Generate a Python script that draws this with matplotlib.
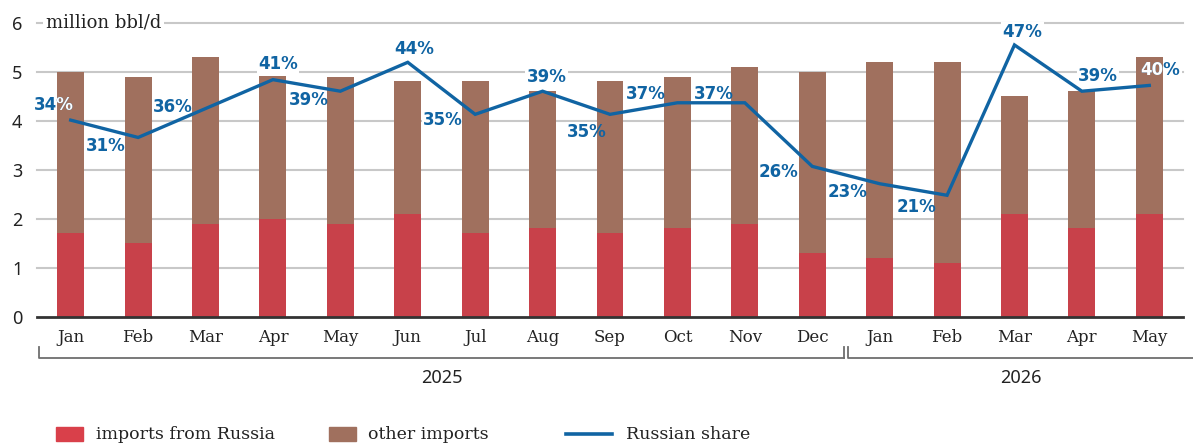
import matplotlib
matplotlib.use("Agg")
import matplotlib.pyplot as plt
from matplotlib.transforms import blended_transform_factory
from matplotlib.patches import Rectangle
from matplotlib.lines import Line2D

# ---------------- data ----------------
months = ["Jan", "Feb", "Mar", "Apr", "May", "Jun", "Jul", "Aug", "Sep", "Oct",
          "Nov", "Dec", "Jan", "Feb", "Mar", "Apr", "May"]
years = ["2025", "2026"]
russia = [1.7, 1.5, 1.9, 2.0, 1.9, 2.1, 1.7, 1.8, 1.7, 1.8, 1.9, 1.3, 1.2, 1.1, 2.1, 1.8, 2.1]
other = [3.3, 3.4, 3.4, 2.92, 3.0, 2.7, 3.1, 2.8, 3.1, 3.1, 3.2, 3.7, 4.0, 4.1, 2.4, 2.8, 3.2]
share = [34, 31, 36, 41, 39, 44, 35, 39, 35, 37, 37, 26, 23, 21, 47, 39, 40]
yticks = [0, 1, 2, 3, 4, 5, 6]

# ---------------- style ----------------
RED = "#C8414A"
BROWN = "#A0705E"
BLUE = "#1064A3"
GRID = "#C8C8C8"
W, H = 1193, 444
SERIF = ["DejaVu Serif"]
SANS = ["Noto Sans", "DejaVu Sans"]
BOLD = ["DejaVu Sans"]

# label offsets in pixels (dx right, dy down)
label_off = [(-17, -15), (-32, 8.5), (-33, -2), (5, -15.5), (-32, 9), (6, -13),
             (-32, 6), (4, -14), (-23, 18), (-32, -9), (-31, -9), (-34, 5.5),
             (-32, 8), (-31, 12), (8, -13), (16, -15), (11, -15.5)]
white_on_bar = {0, 16}

fig = plt.figure(figsize=(W / 100, H / 100), dpi=100)
ax = fig.add_axes([37 / W, 1 - 316.7 / H, (1183 - 37) / W, (316.7 - 22.7) / H])
ax.set_xlim(-0.5, len(months) - 0.5)
ax.set_ylim(0, 6)

x = list(range(len(months)))
bars_r = ax.bar(x, russia, width=0.4, color=RED, zorder=2)
bars_o = ax.bar(x, other, width=0.4, bottom=russia, color=BROWN, zorder=2)

# gridlines
for yv in yticks[1:]:
    ax.axhline(yv, color=GRID, lw=1.5, zorder=0, clip_on=False)

for s in ["top", "right", "left"]:
    ax.spines[s].set_visible(False)
ax.spines["bottom"].set_color("#333333")
ax.spines["bottom"].set_linewidth(2)
ax.spines["bottom"].set_zorder(3)

ax.set_yticks(yticks)
ax.set_yticklabels([str(v) for v in yticks], fontfamily=SANS, fontsize=13, color="#222222")
ax.set_xticks(x)
ax.set_xticklabels(months, fontfamily=SERIF, fontsize=12, color="#222222")
ax.tick_params(axis="y", length=0, pad=10.5)
ax.tick_params(axis="x", length=0, pad=9)

# unit label
ax.text(-0.5 + (46 - 37) / 67.4, 6, "million bbl/d", fontfamily=SERIF, fontsize=13,
        va="center", ha="left", color="#222222", zorder=3,
        bbox=dict(facecolor="white", edgecolor="none", pad=2))

# Russian share line on a hidden secondary scale
ax2 = ax.twinx()
ax2.set_ylim(0, 50.85)
ax2.axis("off")
ax2.plot(x, share, color=BLUE, lw=2.4, zorder=4, solid_joinstyle="miter")
ax.set_zorder(1)
ax2.set_zorder(2)
ax2.patch.set_visible(False)

lab_kw = dict(xycoords=ax2.transData, textcoords="offset pixels", ha="center",
              va="center", fontfamily=BOLD, fontweight="bold", fontsize=12,
              annotation_clip=False)
for i, (v, (dx, dy)) in enumerate(zip(share, label_off)):
    txt = f"{v}%"
    # white box behind the bars
    ax.annotate(txt, (i, v), xytext=(dx, -dy), color="none", zorder=1,
                bbox=dict(facecolor="white", edgecolor="none", pad=1.0), **lab_kw)
    # blue text above the bars
    ax.annotate(txt, (i, v), xytext=(dx, -dy), color=BLUE, zorder=6, **lab_kw)
    if i in white_on_bar:
        t = ax.annotate(txt, (i, v), xytext=(dx, -dy), color="white", zorder=7, **lab_kw)
        bo = bars_o[i]
        clip = Rectangle((bo.get_x(), bo.get_y()), bo.get_width(), bo.get_height(),
                         transform=ax.transData)
        t.set_clip_path(clip)

# year brackets
tr = blended_transform_factory(ax.transData, fig.transFigure)
yb, yt = 1 - 358 / H, 1 - 347 / H
brk = [(-0.47, 11.47), (11.53, 16.66)]
for (x0, x1), yr in zip(brk, years):
    fig.add_artist(Line2D([x0, x0, x1], [yt, yb, yb], transform=tr, color="#6E6E6E", lw=1.3))
    if x1 < 16:
        fig.add_artist(Line2D([x1, x1], [yb, yt], transform=tr, color="#6E6E6E", lw=1.3))
    fig.text((x0 + x1) / 2, 1 - 378 / H, yr, transform=tr, ha="center", va="center",
             fontfamily=SANS, fontsize=13, color="#222222")

# legend (manual)
def px(xp, yp):
    return xp / W, 1 - yp / H

fig.add_artist(Rectangle(px(56, 441), 27 / W, 14 / H, transform=fig.transFigure,
                         color="#D9404A"))
fig.text(*px(96, 434), "imports from Russia", fontfamily=SERIF, fontsize=12.5,
         va="center", ha="left", color="#222222")
fig.add_artist(Rectangle(px(329, 441), 27 / W, 14 / H, transform=fig.transFigure,
                         color=BROWN))
fig.text(*px(368, 434), "other imports", fontfamily=SERIF, fontsize=12.5,
         va="center", ha="left", color="#222222")
fig.add_artist(Line2D([566 / W, 612 / W], [1 - 434 / H, 1 - 434 / H],
                      transform=fig.transFigure, color=BLUE, lw=2.6))
fig.text(*px(626, 434), "Russian share", fontfamily=SERIF, fontsize=12.5,
         va="center", ha="left", color="#222222")

fig.savefig("out.png", dpi=100)
